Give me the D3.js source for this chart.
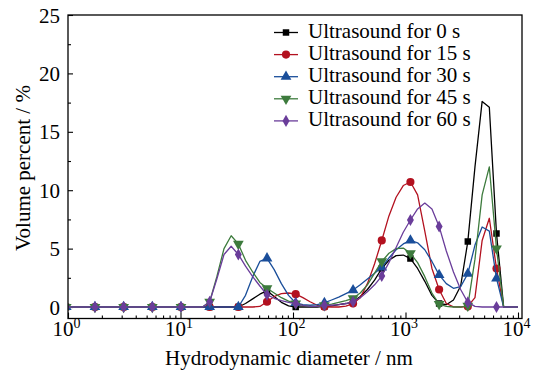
<!DOCTYPE html>
<html>
<head>
<meta charset="utf-8">
<script src="https://cdn.jsdelivr.net/npm/d3@7"></script>
<style>
  html, body { margin: 0; padding: 0; background: #fff; }
  svg { display: block; }
</style>
</head>
<body>
<svg id="chart" width="536" height="372"></svg>
<script>
// Hydrodynamic diameter bins (nm)
const sizes = [0.9649, 1.117, 1.294, 1.499, 1.736, 2.01, 2.328, 2.696, 3.122, 3.615, 4.187, 4.849, 5.615, 6.503, 7.531, 8.721, 10.1, 11.7,
  13.54, 15.69, 18.17, 21.04, 24.36, 28.21, 32.67, 37.84, 43.82, 50.75, 58.77, 68.06, 78.82, 91.28, 105.7, 122.4, 141.8, 164.2,
  190.1, 220.2, 255, 295.3, 342, 396.1, 458.7, 531.2, 615.1, 712.4, 825, 955.4, 1106, 1281, 1484, 1718, 1990, 2305, 2669, 3091,
  3580, 4145, 4801, 5560, 6439, 7456, 8635, 10000];

const us0 = [0,0,0,0,0,0,0,0,0,0,0,0,0,0,0,0,0,0,
  0,0,0,0,0,0,0,0.3,0.7,1.1,1.4,0.9,0.4,0.1,0,0,0,0,
  0.05,0.1,0.2,0.3,0.45,0.9,1.5,2.3,3.3,4.0,4.4,4.45,4.15,3.3,2.2,1.0,0.3,0.2,0.6,1.8,
  5.6,12.0,17.6,17.1,6.3,0,0,0];
const us15 = [0,0,0,0,0,0,0,0,0,0,0,0,0,0,0,0,0,0,
  0,0,0,0,0,0,0,0,0,0.05,0.45,0.9,1.15,1.2,1.1,0.8,0.45,0.15,
  0.02,0,0,0.08,0.3,0.8,2.0,3.7,5.7,7.8,9.4,10.4,10.7,9.6,6.5,3.3,1.5,0.3,0.02,0,
  0.05,0.8,5.7,7.6,3.3,0,0,0];
const us30 = [0,0,0,0,0,0,0,0,0,0,0,0,0,0,0,0,0,0,
  0,0,0,0,0,0,0,1.0,2.6,3.9,4.17,3.2,2.0,1.0,0.35,0.2,0.15,0.2,
  0.35,0.6,0.85,1.15,1.45,1.9,2.4,2.9,3.4,4.2,4.9,5.4,5.7,5.5,4.9,3.9,2.75,2.0,1.6,1.75,
  2.85,5.3,6.85,6.5,2.45,0,0,0];
const us45 = [0,0,0,0,0,0,0,0,0,0,0,0,0,0,0,0,0,0,
  0,0,0.45,2.6,5.0,6.1,5.4,4.0,3.0,2.1,1.6,1.2,0.8,0.5,0.3,0.15,0.05,0.05,
  0.15,0.25,0.4,0.55,0.75,1.2,1.9,2.9,3.9,4.6,5.0,5.05,4.6,3.8,2.6,1.2,0.25,0.05,0,0,
  0.1,4.1,9.6,12.0,5.0,0,0,0];
const us60 = [0,0,0,0,0,0,0,0,0,0,0,0,0,0,0,0,0,0,
  0,0,0.45,2.4,4.5,5.2,4.5,3.5,2.6,1.8,1.05,0.75,0.55,0.4,0.3,0.15,0.05,0.05,
  0.15,0.15,0.2,0.3,0.45,0.8,1.3,1.9,2.65,3.8,5.1,6.4,7.45,8.4,8.9,8.4,6.9,4.8,3.0,1.5,
  0.4,0.05,0,0,0,0,0,0];

const seriesNames = ["Ultrasound for 0 s", "Ultrasound for 15 s", "Ultrasound for 30 s", "Ultrasound for 45 s", "Ultrasound for 60 s"];
const seriesValues = [us0, us15, us30, us45, us60];
const seriesColors = ["#000000", "#b3111f", "#1a4e9a", "#3d7b3d", "#6a3d9a"];
const seriesSymbols = ["square", "circle", "triangle", "triangleDown", "diamond"];

const yTicks = [0, 5, 10, 15, 20, 25];
const xTicks = [1, 10, 100, 1000, 10000];
const xTickExps = ["0", "1", "2", "3", "4"];
const xTitle = "Hydrodynamic diameter / nm";
const yTitle = "Volume percent / %";

const FONT = "'Liberation Serif', 'Times New Roman', Times, serif";

const svg = d3.select("#chart");
const frame = { left: 68, right: 522, top: 15, bottom: 318.5 };

const x = d3.scaleLog().domain([1, 10000]).range([68, 518]);
const y = d3.scaleLinear().domain([-1, 25]).range([318.7, 15]);

svg.append("defs").append("clipPath").attr("id", "clip")
  .append("rect").attr("x", frame.left).attr("y", frame.top)
  .attr("width", frame.right - frame.left).attr("height", frame.bottom - frame.top);

// minor ticks
const xMinor = [];
for (let e = 0; e < 4; e++) for (let m = 2; m <= 9; m++) xMinor.push(m * Math.pow(10, e));
const yMinor = [2.5, 7.5, 12.5, 17.5, 22.5];

const gx = svg.append("g").attr("transform", `translate(0,${frame.bottom})`);
gx.call(d3.axisBottom(x).tickValues(xMinor).tickSize(-3).tickFormat(""));
const gxMaj = svg.append("g").attr("transform", `translate(0,${frame.bottom})`);
gxMaj.call(d3.axisBottom(x).tickValues(xTicks).tickSize(-6).tickPadding(0));
[gx, gxMaj].forEach(g => { g.select(".domain").remove(); g.selectAll("line").attr("stroke", "#000").attr("stroke-width", 1.1); });
gxMaj.attr("font-family", null);
gxMaj.selectAll("text").each(function(d, i) {
  const t = d3.select(this);
  t.text(null).attr("y", null).attr("dy", null)
    .attr("transform", "translate(-2,17)")
    .style("font-family", FONT).style("font-size", "21px").attr("text-anchor", "middle");
  t.append("tspan").text("10");
  t.append("tspan").text(xTickExps[i]).style("font-size", "14px").attr("dy", -8);
});

const gy = svg.append("g").attr("transform", `translate(${frame.left},0)`);
gy.call(d3.axisLeft(y).tickValues(yMinor).tickSize(-3).tickFormat(""));
const gyMaj = svg.append("g").attr("transform", `translate(${frame.left},0)`);
gyMaj.call(d3.axisLeft(y).tickValues(yTicks).tickSize(-5).tickPadding(8));
[gy, gyMaj].forEach(g => { g.select(".domain").remove(); g.selectAll("line").attr("stroke", "#000").attr("stroke-width", 1.1); });
gyMaj.attr("font-family", null);
gyMaj.selectAll("text").style("font-size", "21px").style("font-family", FONT).attr("dy", "0.34em");

// data
const plot = svg.append("g").attr("clip-path", "url(#clip)");
const line = d3.line().x(d => x(d[0])).y(d => y(d[1]));

function symbolFor(name, size) {
  if (name === "square") return d3.symbol(d3.symbolSquare, size)();
  if (name === "circle") return d3.symbol(d3.symbolCircle, size)();
  if (name === "triangle" || name === "triangleDown") return d3.symbol(d3.symbolTriangle, size)();
  return d3.symbol(d3.symbolDiamond, size)();
}
const symSizes = { square: 42, circle: 52, triangle: 50, triangleDown: 50, diamond: 42 };

seriesValues.forEach((vals, si) => {
  const pts = sizes.map((s, i) => [s, vals[i]]);
  plot.append("path").datum(pts)
    .attr("fill", "none").attr("stroke", seriesColors[si]).attr("stroke-width", 1.3)
    .attr("stroke-linejoin", "round").attr("d", line);
  const mk = pts.filter((p, i) => i % 4 === 0);
  plot.selectAll(null).data(mk).enter().append("path")
    .attr("d", symbolFor(seriesSymbols[si], symSizes[seriesSymbols[si]]))
    .attr("transform", d => `translate(${x(d[0])},${y(d[1])})` + (seriesSymbols[si] === "triangleDown" ? " rotate(180)" : ""))
    .attr("fill", seriesColors[si]);
});

// frame
svg.append("rect").attr("x", frame.left).attr("y", frame.top)
  .attr("width", frame.right - frame.left).attr("height", frame.bottom - frame.top)
  .attr("fill", "none").attr("stroke", "#000").attr("stroke-width", 1.3);

// titles
svg.append("text").attr("x", 289).attr("y", 365).attr("text-anchor", "middle")
  .style("font-family", FONT).style("font-size", "21px").text(xTitle);
svg.append("text").attr("transform", "translate(29.5,168) rotate(-90)").attr("text-anchor", "middle")
  .style("font-family", FONT).style("font-size", "21px").text(yTitle);

// legend
const lg = svg.append("g");
seriesNames.forEach((name, i) => {
  const by = 37.5 + i * 22.1;
  const cy = by - 5;
  lg.append("line").attr("x1", 274).attr("x2", 298).attr("y1", cy).attr("y2", cy)
    .attr("stroke", seriesColors[i]).attr("stroke-width", 1.3);
  lg.append("path").attr("d", symbolFor(seriesSymbols[i], symSizes[seriesSymbols[i]]))
    .attr("transform", `translate(286,${cy})` + (seriesSymbols[i] === "triangleDown" ? " rotate(180)" : ""))
    .attr("fill", seriesColors[i]);
  lg.append("text").attr("x", 308).attr("y", by)
    .style("font-family", FONT).style("font-size", "21px").text(name);
});
</script>
</body>
</html>
